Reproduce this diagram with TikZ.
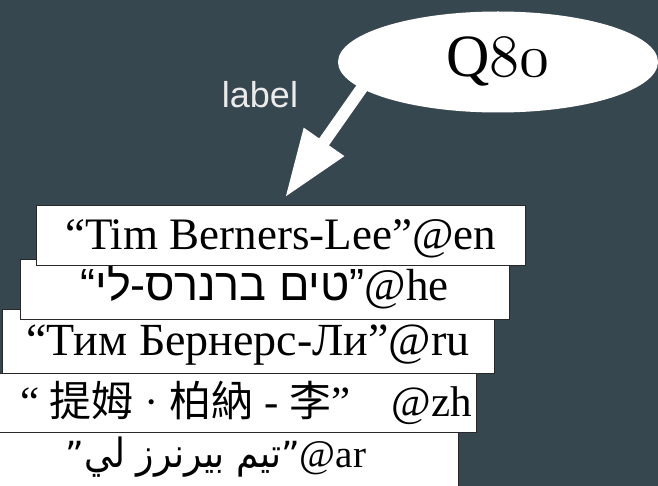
\documentclass[tikz,border=0pt]{standalone}
\usepackage{fontspec}
\setmainfont{Liberation Serif}
\newfontfamily\hebfont[Script=Hebrew]{Liberation Sans}
\newfontfamily\arabicfont[Script=Arabic]{DejaVu Sans}
\newfontfamily\cjk{Noto Sans CJK TC}
\newfontfamily\lblfont{Liberation Sans}
\TeXXeTstate=1
\DeclareFontShape{OML}{cmm}{m}{it}{<->cmmi10}{}
\usetikzlibrary{shapes.geometric,arrows.meta}
\definecolor{bg}{RGB}{55,71,79}
\definecolor{lbl}{RGB}{235,235,235}
\definecolor{edge}{RGB}{40,40,40}
\tikzset{
  litbox/.style={rectangle, draw=edge, line width=0.9pt, fill=white, inner sep=0pt,
    minimum width=489pt, minimum height=60pt, font=\fontsize{45}{50}\selectfont},
  itembubble/.style={ellipse, fill=white, inner sep=0pt, minimum width=320pt,
    minimum height=101pt, font=\fontsize{60}{64}\selectfont},
  proplabel/.style={inner sep=0pt, text=lbl, font=\lblfont\fontsize{36}{40}\selectfont},
  bigarrow/.style={white, line width=12pt, -{Triangle[length=68pt,width=46pt]}, shorten <=-8pt}
}
\begin{document}
\begin{tikzpicture}[x=1pt,y=-1pt]
\useasboundingbox (0,0) rectangle (658,486);
\clip (0,0) rectangle (658,486);
\fill[bg] (0,0) rectangle (658,486);
\node[litbox, minimum width=484pt, text height=22pt, text depth=12pt,
      font=\fontsize{39}{44}\selectfont] (ar) at (216,462)
  {{\arabicfont\fontsize{36}{40}\selectfont ”\scalebox{1}[1.12]{\beginR تيم بيرنرز لي\endR}”}@ar};
\node[litbox, minimum width=491pt, minimum height=59pt, text height=34pt, text depth=6pt,
      font=\fontsize{43}{48}\selectfont] (zh) at (230.5,402.5)
  {\hspace*{31pt}“ {\cjk\fontsize{42}{45}\selectfont 提姆} · {\cjk\fontsize{42}{45}\selectfont 柏納} - {\cjk\fontsize{42}{45}\selectfont 李}”\hspace{41pt}@zh};
\node[litbox, minimum width=492pt, minimum height=64pt, text height=34pt, text depth=6pt,
      font=\fontsize{46}{50}\selectfont] (ru) at (248,341) {“Тим Бернерс-Ли”@ru};
\node[litbox, text height=30pt, text depth=8pt] (he) at (264.5,289)
  {{\hebfont “\beginR טים ברנרס-לי\endR”}@he};
\node[litbox, text height=36pt, text depth=6pt] (en) at (280.5,235) {“Tim Berners-Lee”@en};
\node[itembubble] (q80) at (498,62) {Q{\usefont{OML}{cmm}{m}{it}80}};
\node[proplabel] (lab) at (260,95) {label};
\coordinate (tip) at ([shift={(4.5,-7)}]en.north);
\draw[bigarrow] (q80.191) -- (tip);
\end{tikzpicture}
\end{document}
